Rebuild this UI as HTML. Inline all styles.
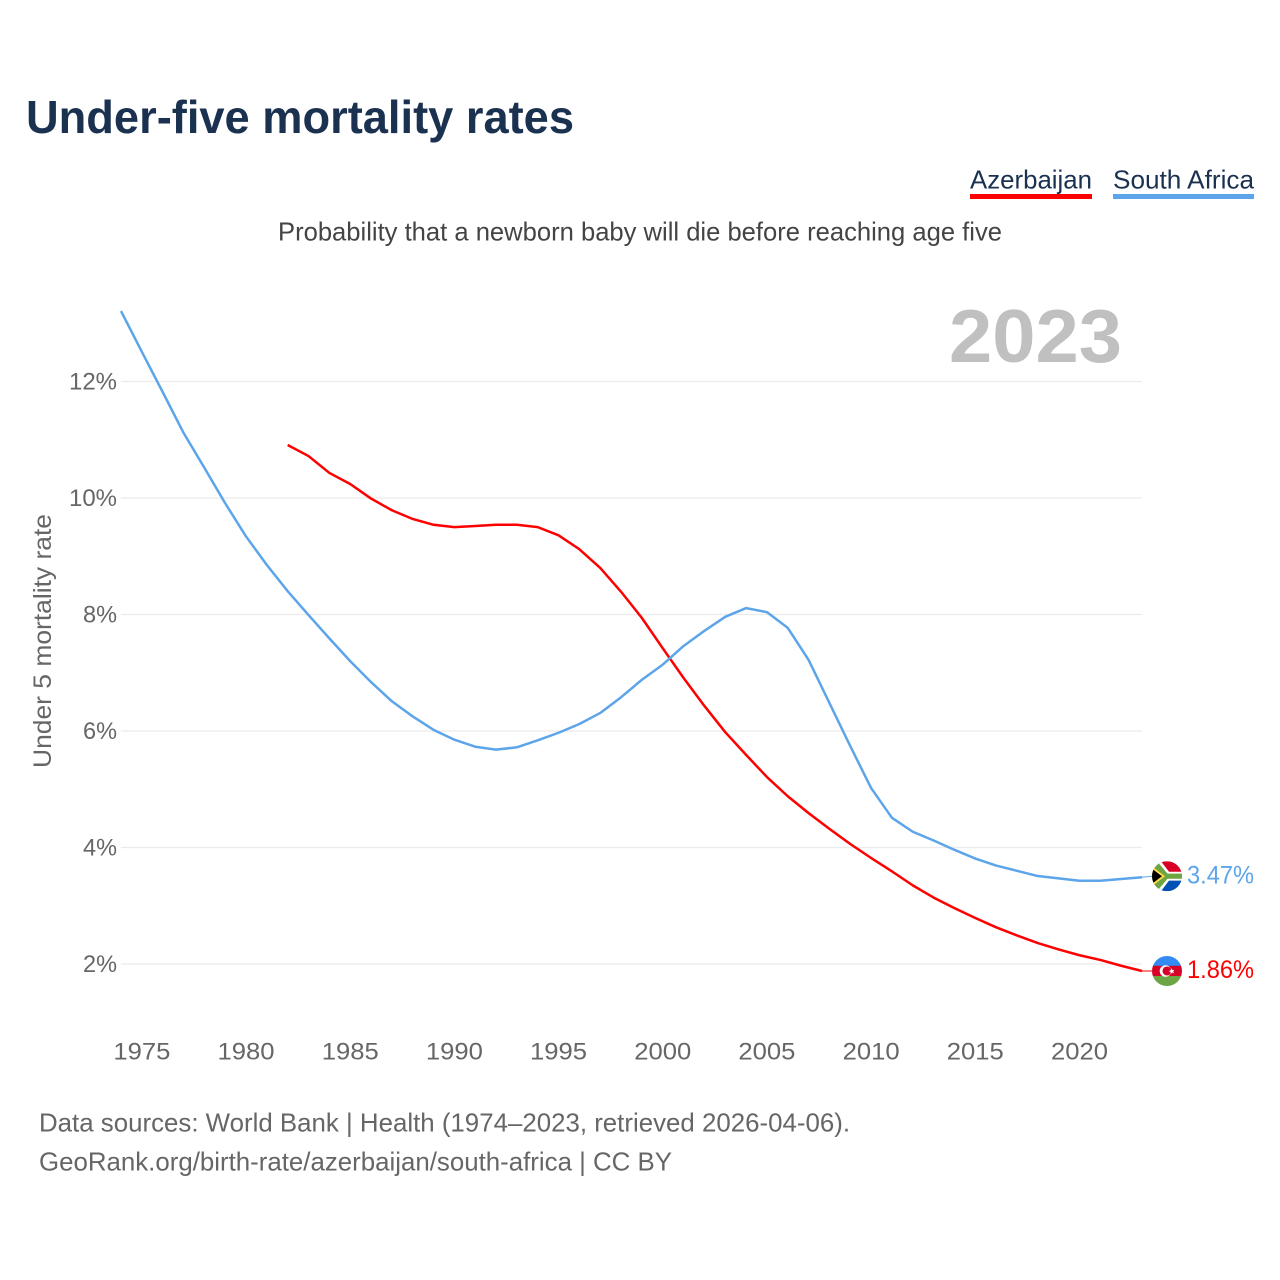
<!DOCTYPE html>
<html lang="en">
<head>
<meta charset="utf-8">
<title>Under-five mortality rates</title>
<style>
  html, body { margin: 0; padding: 0; background: #fff; }
  svg { display: block; font-family: "Liberation Sans", sans-serif; }
  .tick { font-size: 24px; fill: #666; }
  .foot { font-size: 26px; fill: #666; }
</style>
</head>
<body>
<svg id="chart" xmlns="http://www.w3.org/2000/svg" width="1280" height="1280" viewBox="0 0 1280 1280">
  <defs>
    <clipPath id="flag-clip"><circle cx="0" cy="0" r="15"></circle></clipPath>
  </defs>
  <rect x="0" y="0" width="1280" height="1280" fill="#fff"></rect>

  <text x="26" y="133" font-size="46" font-weight="700" fill="#1a3150" textLength="548" lengthAdjust="spacingAndGlyphs">Under-five mortality rates</text>

  <g>
    <text x="970" y="188.5" font-size="26" fill="#1a3150" textLength="122" lengthAdjust="spacingAndGlyphs">Azerbaijan</text>
    <rect x="970" y="194" width="122" height="5" fill="#ff0000"></rect>
  </g>
  <g>
    <text x="1113" y="188.5" font-size="26" fill="#1a3150" textLength="141" lengthAdjust="spacingAndGlyphs">South Africa</text>
    <rect x="1113" y="194" width="141" height="5" fill="#5da5ea"></rect>
  </g>

  <text x="278" y="240.5" font-size="26" fill="#444" textLength="724" lengthAdjust="spacingAndGlyphs">Probability that a newborn baby will die before reaching age five</text>

  <g id="grid"></g>

  <text x="949" y="362" font-size="75" font-weight="700" fill="#c0c0c0" textLength="173" lengthAdjust="spacingAndGlyphs">2023</text>

  <g id="y-ticks"></g>
  <g id="x-ticks"></g>

  <text transform="translate(51,768) rotate(-90)" x="0" y="0" font-size="25" fill="#666" textLength="254" lengthAdjust="spacingAndGlyphs">Under 5 mortality rate</text>

  <g id="series"></g>

  <g id="flag-za">
    <g clip-path="url(#flag-clip)">
      <rect x="-15" y="-15" width="30" height="15" fill="#d80027"></rect>
      <rect x="-15" y="0" width="30" height="15" fill="#0052b4"></rect>
      <path d="M-15,-15 L-6,-15 L2,-4.4 L15,-4.4 L15,4.4 L2,4.4 L-6,15 L-15,15 Z" fill="#fff"></path>
      <path d="M-15,-15 L-10,-15 L0.5,-2.6 L15,-2.6 L15,2.6 L0.5,2.6 L-10,15 L-15,15 Z" fill="#6da544"></path>
      <path d="M-15,-10 L-2,0 L-15,10 Z" fill="#ffda44"></path>
      <path d="M-15,-7.5 L-5,0 L-15,7.5 Z" fill="#000"></path>
    </g>
  </g>
  <g id="flag-az">
    <g clip-path="url(#flag-clip)">
      <rect x="-15" y="-15" width="30" height="10" fill="#338af3"></rect>
      <rect x="-15" y="-5.2" width="30" height="10.4" fill="#d80027"></rect>
      <rect x="-15" y="5" width="30" height="10" fill="#6da544"></rect>
      <circle cx="-1.5" cy="0" r="5.8" fill="#fff"></circle>
      <circle cx="0" cy="0" r="4.5" fill="#d80027"></circle>
      <path d="M4.6,-3 L5.3,-1 L7.5,-1.1 L6.1,0.4 L7.2,2.2 L5.1,1.6 L3.7,3.1 L3.6,1 L1.7,0.1 L3.7,-0.8 Z" fill="#fff"></path>
    </g>
  </g>

  <text id="value-za" x="1187" font-size="25" fill="#5da5ea" textLength="67" lengthAdjust="spacingAndGlyphs"></text>
  <text id="value-az" x="1187" font-size="25" fill="#ff0000" textLength="67" lengthAdjust="spacingAndGlyphs"></text>

  <text class="foot" x="39" y="1131.5" textLength="811" lengthAdjust="spacingAndGlyphs">Data sources: World Bank | Health (1974–2023, retrieved 2026-04-06).</text>
  <text class="foot" x="39" y="1170.5" textLength="633" lengthAdjust="spacingAndGlyphs">GeoRank.org/birth-rate/azerbaijan/south-africa | CC BY</text>
</svg>

<script>
const yTickValues = [2, 4, 6, 8, 10, 12];
const xTickYears = [1975, 1980, 1985, 1990, 1995, 2000, 2005, 2010, 2015, 2020];
const southAfricaStart = 1974;
const southAfricaValues = [13.21, 12.51, 11.82, 11.12, 10.52, 9.91, 9.34, 8.85, 8.40, 7.99,
  7.59, 7.20, 6.84, 6.51, 6.25, 6.02, 5.85, 5.73, 5.68, 5.72,
  5.84, 5.97, 6.12, 6.31, 6.58, 6.88, 7.14, 7.46, 7.72, 7.96,
  8.11, 8.04, 7.77, 7.22, 6.48, 5.74, 5.02, 4.51, 4.27, 4.12,
  3.96, 3.81, 3.69, 3.60, 3.51, 3.47, 3.43, 3.43, 3.46, 3.49];
const azerbaijanStart = 1982;
const azerbaijanValues = [10.91, 10.72, 10.43, 10.24, 9.99, 9.79, 9.64, 9.54, 9.50, 9.52,
  9.54, 9.54, 9.50, 9.36, 9.12, 8.80, 8.39, 7.94, 7.42, 6.91,
  6.43, 5.98, 5.59, 5.21, 4.88, 4.59, 4.32, 4.06, 3.82, 3.59,
  3.35, 3.14, 2.96, 2.79, 2.63, 2.49, 2.36, 2.25, 2.15, 2.07, 1.97, 1.88];
const southAfricaLatestLabel = "3.47%";
const azerbaijanLatestLabel = "1.86%";

const NS = "http://www.w3.org/2000/svg";
const plotLeft = 121;
const plotRight = 1142;

function xScale(year) {
  return plotLeft + (year - 1974) * (plotRight - plotLeft) / 49;
}
function yScale(value) {
  return 964 - (value - 2) * 58.25;
}
function make(tag, parent) {
  const el = document.createElementNS(NS, tag);
  parent.appendChild(el);
  return el;
}
function linePoints(start, values) {
  return values.map(function (v, i) {
    return xScale(start + i).toFixed(2) + "," + yScale(v).toFixed(2);
  }).join(" ");
}

const grid = document.getElementById("grid");
const yTicks = document.getElementById("y-ticks");
const xTicks = document.getElementById("x-ticks");
const series = document.getElementById("series");

yTickValues.forEach(function (v) {
  const line = make("line", grid);
  
  
  line.setAttribute("x1", plotLeft);
  line.setAttribute("x2", plotRight);
  line.setAttribute("y1", yScale(v));
  line.setAttribute("y2", yScale(v));
  line.setAttribute("stroke", "#ebebeb");
  line.setAttribute("stroke-width", "1.3");

  const label = make("text", yTicks);
  
  
  const text = v + "%";
  const width = text.length === 2 ? 34 : 48;
  label.setAttribute("class", "tick");
  label.setAttribute("x", 117 - width);
  label.setAttribute("y", yScale(v) + 8);
  label.setAttribute("textLength", width);
  label.setAttribute("lengthAdjust", "spacingAndGlyphs");
  label.textContent = text;
});

xTickYears.forEach(function (year) {
  const label = make("text", xTicks);
  
  
  label.setAttribute("class", "tick");
  label.setAttribute("x", xScale(year) - 28.5);
  label.setAttribute("y", 1059.5);
  label.setAttribute("textLength", 57);
  label.setAttribute("lengthAdjust", "spacingAndGlyphs");
  label.textContent = year;
});

const azLine = make("polyline", series);


azLine.setAttribute("points", linePoints(azerbaijanStart, azerbaijanValues));
azLine.setAttribute("fill", "none");
azLine.setAttribute("stroke", "#ff0000");
azLine.setAttribute("stroke-width", "2.5");
azLine.setAttribute("stroke-linejoin", "round");

const zaLine = make("polyline", series);


zaLine.setAttribute("points", linePoints(southAfricaStart, southAfricaValues));
zaLine.setAttribute("fill", "none");
zaLine.setAttribute("stroke", "#5da5ea");
zaLine.setAttribute("stroke-width", "2.5");
zaLine.setAttribute("stroke-linejoin", "round");

const zaLast = yScale(southAfricaValues[southAfricaValues.length - 1]);
const azLast = yScale(azerbaijanValues[azerbaijanValues.length - 1]);
const zaFlagY = zaLast - 1;
const azFlagY = azLast;

const zaConnector = make("line", series);


zaConnector.setAttribute("x1", plotRight);
zaConnector.setAttribute("x2", 1152);
zaConnector.setAttribute("y1", zaLast);
zaConnector.setAttribute("y2", zaFlagY);
zaConnector.setAttribute("stroke", "#5da5ea");
zaConnector.setAttribute("stroke-width", "1");

const azConnector = make("line", series);


azConnector.setAttribute("x1", plotRight);
azConnector.setAttribute("x2", 1152);
azConnector.setAttribute("y1", azLast);
azConnector.setAttribute("y2", azFlagY);
azConnector.setAttribute("stroke", "#ff0000");
azConnector.setAttribute("stroke-width", "1");

document.getElementById("flag-za").setAttribute("transform", "translate(1167," + zaFlagY + ")");
document.getElementById("flag-az").setAttribute("transform", "translate(1167," + azFlagY + ")");

const zaValue = document.getElementById("value-za");
zaValue.setAttribute("y", zaFlagY + 7.5);
zaValue.textContent = southAfricaLatestLabel;

const azValue = document.getElementById("value-az");
azValue.setAttribute("y", azFlagY + 7);
azValue.textContent = azerbaijanLatestLabel;
</script>
</body>
</html>
